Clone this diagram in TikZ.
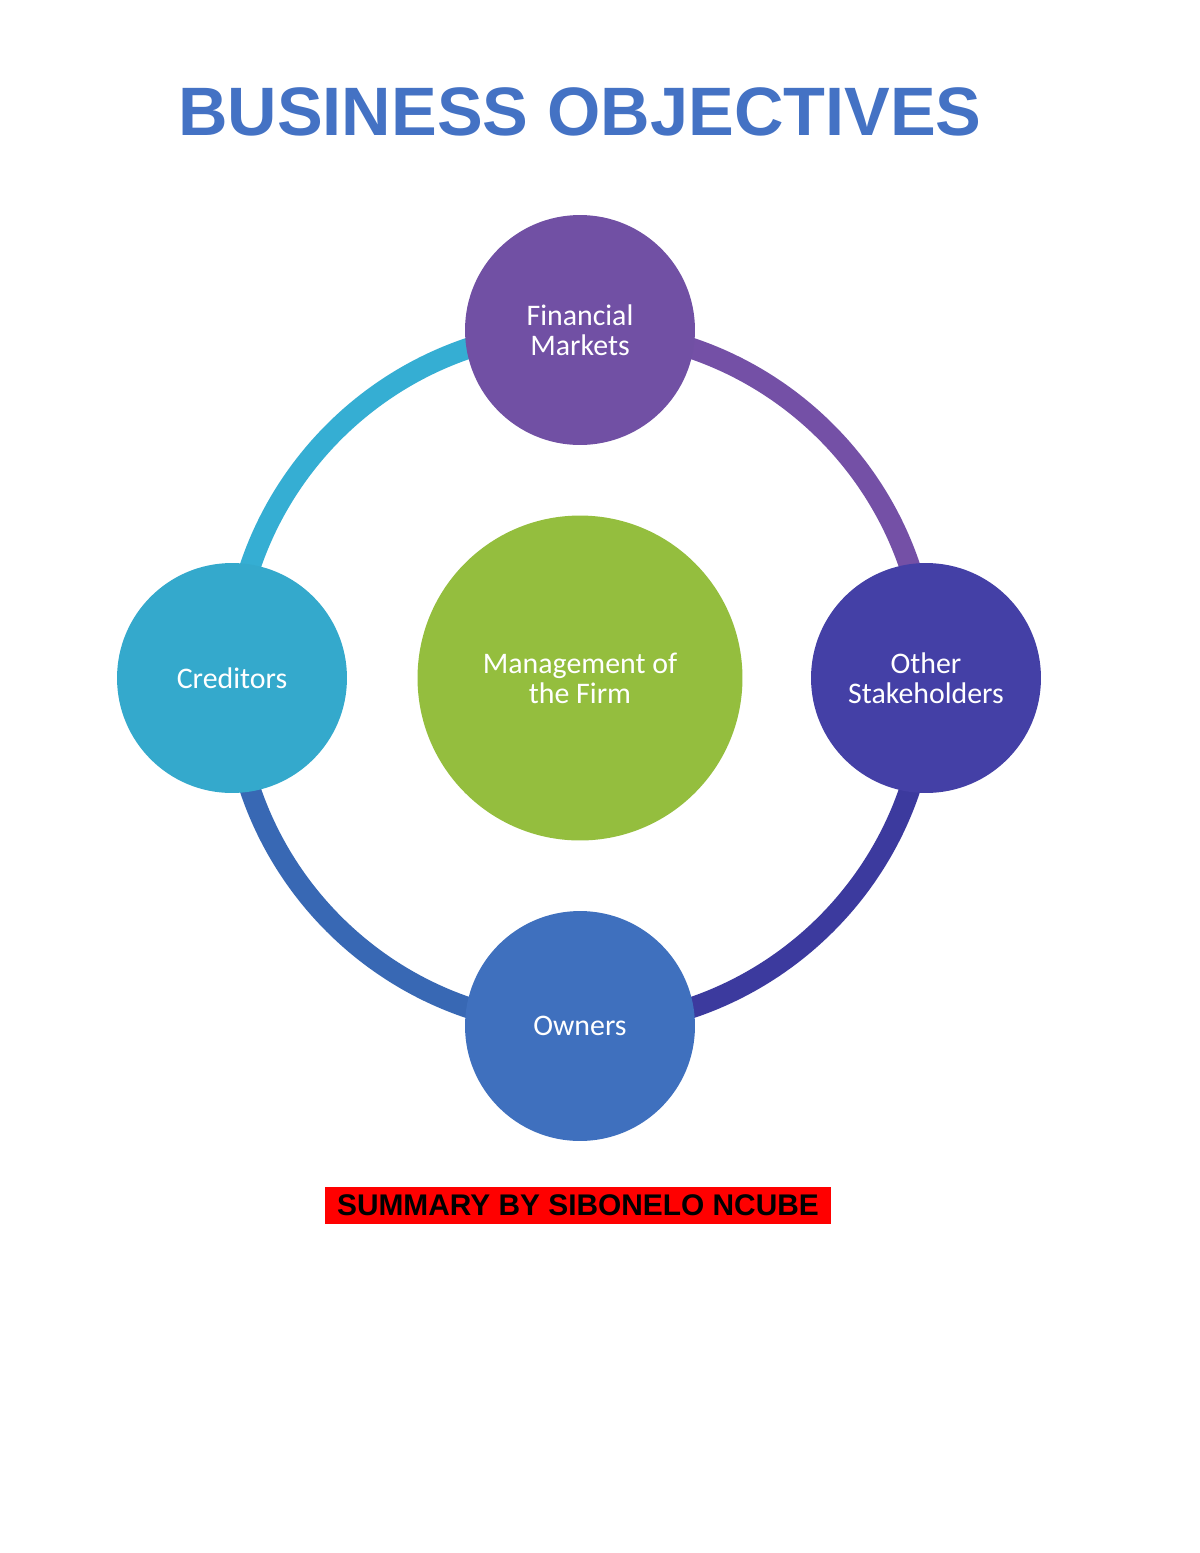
\documentclass[tikz,border=0pt]{standalone}
\usepackage{fontspec}
\setmainfont{Liberation Sans}
\newfontfamily\bubblefont{Carlito}
\definecolor{titleblue}{HTML}{4472C4}
\definecolor{ringcyan}{HTML}{35AED3}
\definecolor{ringpurple}{HTML}{7450A6}
\definecolor{ringindigo}{HTML}{3C3A9E}
\definecolor{ringblue}{HTML}{3868B4}
\definecolor{fmpurple}{HTML}{7150A4}
\definecolor{credcyan}{HTML}{34A9CC}
\definecolor{othindigo}{HTML}{4440A6}
\definecolor{ownblue}{HTML}{3F70BE}
\definecolor{mgmtgreen}{HTML}{94BE3E}
\tikzset{bubble/.style = {circle, minimum size=4.6cm, inner sep=0pt, text=white, align=center,
                          font=\bubblefont\fontsize{17}{17}\selectfont},
         ring/.style = {line width=0.42cm}}
\begin{document}
\begin{tikzpicture}[x=0.02cm, y=-0.02cm]
        \useasboundingbox[fill=white] (0,0) rectangle (1200,1553);

        \node[font=\bfseries\fontsize{39}{39}\selectfont, text=titleblue] (title) at (580,112) {BUSINESS OBJECTIVES};

        \coordinate (hub) at (580,678);
        \draw[ring, ringcyan] (hub) ++(180:348) arc[start angle=180, end angle=270, radius=348];
        \draw[ring, ringpurple] (hub) ++(270:348) arc[start angle=270, end angle=360, radius=348];
        \draw[ring, ringindigo] (hub) ++(0:348) arc[start angle=0, end angle=90, radius=348];
        \draw[ring, ringblue] (hub) ++(90:348) arc[start angle=90, end angle=180, radius=348];

        \node[bubble, fill=fmpurple] (markets) at (580,330) {Financial\\Markets};
        \node[bubble, fill=credcyan] (creditors) at (232,678) {Creditors};
        \node[bubble, fill=othindigo] (others) at (926,678) {Other\\Stakeholders};
        \node[bubble, fill=ownblue] (owners) at (580,1026) {Owners};
        \node[bubble, fill=mgmtgreen, minimum size=6.5cm] (firm) at (hub) {Management of\\the Firm};

        \node[fill=red, font=\bfseries\fontsize{17}{17}\selectfont, minimum width=10.14cm, minimum height=0.74cm, inner sep=0pt] (author) at (578,1205) {SUMMARY BY SIBONELO NCUBE};
    \end{tikzpicture}
\end{document}
